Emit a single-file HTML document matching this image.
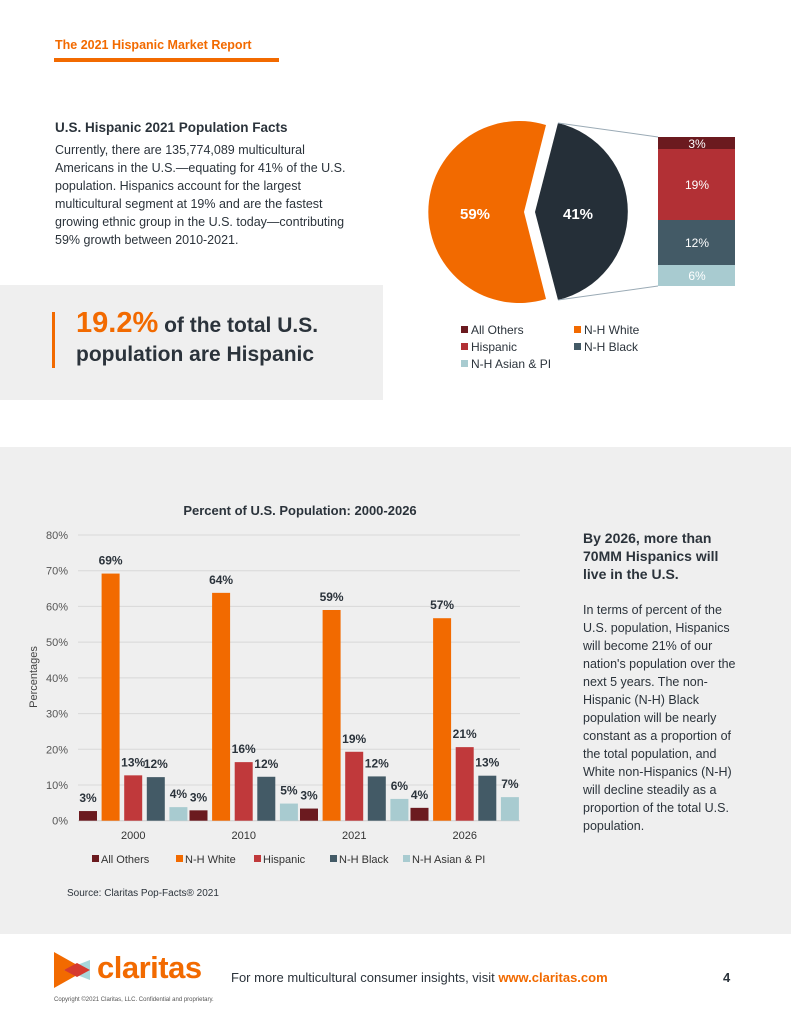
<!DOCTYPE html>
<html><head><meta charset="utf-8"><style>
body{margin:0;width:791px;height:1024px;position:relative;background:#fff;font-family:"Liberation Sans",sans-serif;color:#2b333b;overflow:hidden}
.a{position:absolute}
.p{font-size:12.5px;line-height:18px;color:#2b333b}
</style></head><body>
<div class="a" style="left:55px;top:38px;font-size:12.5px;font-weight:bold;color:#f26a00">The 2021 Hispanic Market Report</div>
<div class="a" style="left:54px;top:58px;width:225px;height:4px;background:#f26a00"></div>
<div class="a" style="left:55px;top:120px;font-size:13.5px;font-weight:bold">U.S. Hispanic 2021 Population Facts</div>
<div class="a p" style="left:55px;top:141px;width:300px">Currently, there are 135,774,089 multicultural Americans in the U.S.—equating for 41% of the U.S. population. Hispanics account for the largest multicultural segment at 19% and are the fastest growing ethnic group in the U.S. today—contributing 59% growth between 2010-2021.</div>
<div class="a" style="left:0;top:285px;width:383px;height:115px;background:#efefef"></div>
<div class="a" style="left:52px;top:312px;width:3px;height:56px;background:#f26a00"></div>
<div class="a" style="left:76px;top:309px;font-size:21px;font-weight:bold;line-height:29px;color:#2b333b"><span style="color:#f26a00;font-size:29px">19.2%</span> of the total U.S.<br>population are Hispanic</div>

<svg class="a" style="left:0;top:0" width="791" height="447">
<path d="M546,125 A91,91 0 1 0 546,299 L524,212 Z" fill="#f26a00"/>
<path d="M558,123 A91,91 0 0 1 558,300 L535,212 Z" fill="#252f38"/>
<text x="475" y="219" font-size="15" font-weight="bold" fill="#fff" text-anchor="middle">59%</text>
<text x="578" y="219" font-size="15" font-weight="bold" fill="#fff" text-anchor="middle">41%</text>
<line x1="558" y1="123" x2="658" y2="137" stroke="#9aaab5" stroke-width="1"/>
<line x1="558" y1="300" x2="658" y2="286" stroke="#9aaab5" stroke-width="1"/>
<rect x="658" y="137" width="77" height="12" fill="#6b1a1f"/>
<rect x="658" y="149" width="77" height="71" fill="#b23035"/>
<rect x="658" y="220" width="77" height="45" fill="#435a66"/>
<rect x="658" y="265" width="77" height="21" fill="#a8cbd0"/>
<g font-size="12" fill="#fff" text-anchor="middle"><text x="697" y="148">3%</text><text x="697" y="189">19%</text><text x="697" y="247">12%</text><text x="697" y="280">6%</text></g>
<g font-size="12" fill="#2b333b">
<rect x="461" y="326" width="7" height="7" fill="#6b1a1f"/><text x="471" y="334">All Others</text>
<rect x="574" y="326" width="7" height="7" fill="#f26a00"/><text x="584" y="334">N-H White</text>
<rect x="461" y="343" width="7" height="7" fill="#b23035"/><text x="471" y="351">Hispanic</text>
<rect x="574" y="343" width="7" height="7" fill="#435a66"/><text x="584" y="351">N-H Black</text>
<rect x="461" y="360" width="7" height="7" fill="#a8cbd0"/><text x="471" y="368">N-H Asian &amp; PI</text>
</g>
</svg>

<div class="a" style="left:0;top:447px;width:791px;height:487px;background:#efefef"></div>
<svg id="bar" class="a" style="left:0;top:447px" width="580" height="487"></svg>
<div class="a" style="left:583px;top:529px;font-size:14px;font-weight:bold;line-height:18px;color:#2b333b">By 2026, more than<br>70MM Hispanics will<br>live in the U.S.</div>
<div class="a p" style="left:583px;top:601px;white-space:nowrap">In terms of percent of the<br>U.S. population, Hispanics<br>will become 21% of our<br>nation's population over the<br>next 5 years. The non-<br>Hispanic (N-H) Black<br>population will be nearly<br>constant as a proportion of<br>the total population, and<br>White non-Hispanics (N-H)<br>will decline steadily as a<br>proportion of the total U.S.<br>population.</div>
<div class="a" style="left:67px;top:888px;font-size:10px;color:#2b333b">Source: Claritas Pop-Facts® 2021</div>

<svg class="a" style="left:52px;top:950px" width="40" height="40">
<polygon points="2,2 34,20 2,38" fill="#f26a00"/>
<polygon points="38,10 38,30 12,20" fill="#a8d8dc"/>
<polygon points="25,13 12,20 25,27 38,20" fill="#d63a2f"/>
</svg>
<div class="a" style="left:97px;top:950px;font-size:31px;font-weight:bold;color:#f26a00;letter-spacing:-0.5px">claritas</div>
<div class="a" style="left:54px;top:997px;font-size:6px;color:#555">Copyright ©2021 Claritas, LLC. Confidential and proprietary.</div>
<div class="a" style="left:231px;top:970px;font-size:13px;color:#2b333b">For more multicultural consumer insights, visit <b style="color:#f26a00">www.claritas.com</b></div>
<div class="a" style="left:723px;top:970px;font-size:13px;font-weight:bold">4</div>

<script>
const categories=["2000","2010","2021","2026"];
const seriesNames=["All Others","N-H White","Hispanic","N-H Black","N-H Asian & PI"];
const allOthers=[2.7,2.9,3.4,3.6];
const nhWhite=[69.2,63.8,59.0,56.7];
const hispanic=[12.7,16.4,19.3,20.6];
const nhBlack=[12.2,12.3,12.4,12.6];
const nhAsian=[3.8,4.8,6.1,6.6];
const labelsOthers=["3%","3%","3%","4%"];
const labelsWhite=["69%","64%","59%","57%"];
const labelsHisp=["13%","16%","19%","21%"];
const labelsBlack=["12%","12%","12%","13%"];
const labelsAsian=["4%","5%","6%","7%"];
const yTicks=[0,10,20,30,40,50,60,70,80];
const colors=["#6b1a1f","#f26a00","#c0393b","#435a66","#a8cbd0"];
const svg=document.getElementById('bar');const NS="http://www.w3.org/2000/svg";
const x0=78,x1=520,y0=373.7,yTop=88;
const y=v=>y0-(v/80)*(y0-yTop);
const gw=(x1-x0)/categories.length;
function el(t,a,txt){const e=document.createElementNS(NS,t);for(const k in a)e.setAttribute(k,a[k]);if(txt!=null)e.textContent=txt;svg.appendChild(e);return e;}
const title=el('text',{x:300,y:68,'font-size':13,'font-weight':'bold','text-anchor':'middle',fill:'#2b333b'},'Percent of U.S. Population: 2000-2026');


yTicks.forEach(t=>{const l=el('line',{x1:x0,x2:x1,y1:y(t),y2:y(t),stroke:t?'#d8d8d8':'#cfcfcf','stroke-width':1});


const tx=el('text',{x:68,y:y(t)+4,'font-size':11,'text-anchor':'end',fill:'#555'},t+'%');

});
const yt=el('text',{x:0,y:0,'font-size':11,fill:'#444','text-anchor':'middle',transform:'translate(37,230) rotate(-90)'},'Percentages');


const series=[allOthers,nhWhite,hispanic,nhBlack,nhAsian];
const labels=[labelsOthers,labelsWhite,labelsHisp,labelsBlack,labelsAsian];
const bw=18,step=22.6;
categories.forEach((c,i)=>{
 const gx=x0+i*gw+1;
 series.forEach((s,j)=>{const bx=gx+j*step;
  const r=el('rect',{x:bx,y:y(s[i]),width:bw,height:y0-y(s[i]),fill:colors[j]});
  
  
  const t=el('text',{x:bx+bw/2,y:y(s[i])-9,'font-size':12,'font-weight':'bold','text-anchor':'middle',fill:'#2b333b'},labels[j][i]);
  
  
 });
 const ct=el('text',{x:x0+i*gw+gw/2,y:392,'font-size':11,'text-anchor':'middle',fill:'#333'},c);
 
 
});
const lx=[92,176,254,330,403];
seriesNames.forEach((n,j)=>{
 const r=el('rect',{x:lx[j],y:408,width:7,height:7,fill:colors[j]});
 
 
 const t=el('text',{x:lx[j]+9,y:416,'font-size':11,fill:'#333'},n);
 
 
});
</script>
</body></html>
